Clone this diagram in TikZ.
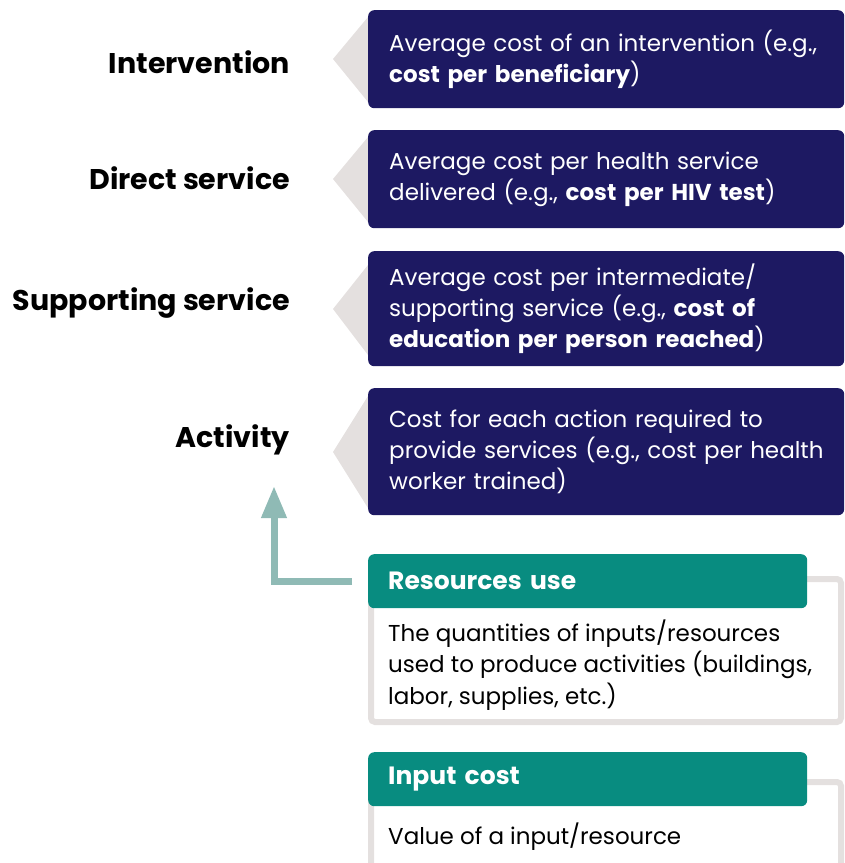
\documentclass[tikz,border=0pt]{standalone}
\usepackage{fontspec}
\setmainfont{Poppins}
\usetikzlibrary{arrows.meta}
\definecolor{navy}{RGB}{29,25,98}
\definecolor{tealdark}{RGB}{8,140,128}
\definecolor{tealarrow}{RGB}{143,186,181}
\definecolor{greyshade}{RGB}{228,224,223}
\begin{document}
\begin{tikzpicture}[x=1pt,y=-1pt,
  navybox/.style={fill=navy, rounded corners=6pt, text=white, anchor=north west,
    minimum width=476pt, inner xsep=21pt, inner ysep=0pt, text width=434pt, align=left,
    font=\fontsize{23}{31}\selectfont},
  lab/.style={anchor=base east, font=\bfseries\fontsize{28.5}{32}\selectfont, text=black, inner sep=0pt},
  tealbox/.style={fill=tealdark, rounded corners=6pt, text=white, anchor=north west,
    minimum width=439pt, minimum height=54pt, inner xsep=20pt, text width=399pt, align=left,
    font=\bfseries\fontsize{25}{28}\selectfont},
  bodytext/.style={anchor=west, inner sep=0pt, align=left, text=black,
    font=\fontsize{23}{31.5}\selectfont},
  frame/.style={draw=greyshade, line width=6pt, rounded corners=4pt},
  pointer/.style={fill=greyshade},
  arr/.style={draw=tealarrow, line width=7pt, -{Triangle[width=24pt,length=32pt]}}
]
\useasboundingbox (0,0) rectangle (845,863);

% grey pointers behind the boxes
\fill[pointer] (368,17) -- (333,59) -- (368,102) -- cycle;
\fill[pointer] (368,137) -- (333,179) -- (368,222) -- cycle;
\fill[pointer] (368,265) -- (333,309) -- (368,355) -- cycle;
\fill[pointer] (368,396) -- (333,452) -- (368,508) -- cycle;

% navy boxes
\node[navybox, minimum height=98pt] (b1) at (368,10)
  {\mbox{Average cost of an intervention (e.g.,}\\\textbf{cost per beneficiary})};
\node[navybox, minimum height=98pt] (b2) at (368,130)
  {Average cost per health service\\\mbox{delivered (e.g., \textbf{cost per HIV test})}};
\node[navybox, minimum height=115pt] (b3) at (368,251)
  {Average cost per intermediate/\\supporting service (e.g., \textbf{cost of}\\\mbox{\textbf{education per person reached})}};
\node[navybox, minimum height=127pt] (b4) at (368,388)
  {Cost for each action required to\\\mbox{provide services (e.g., cost per health}\\worker trained)};

% labels
\node[lab] (l1) at (290,73) {Intervention};
\node[lab] (l2) at (290,189) {Direct service};
\node[lab] (l3) at (290,310) {Supporting service};
\node[lab] (l4) at (290,447) {Activity};

% bottom boxes
\draw[frame] (371,579) rectangle (841,722);
\node[tealbox] (res) at (368,554) {Resources use};
\node[bodytext] (resbody) at (388,665)
  {The quantities of inputs/resources\\used to produce activities (buildings,\\labor, supplies, etc.)};

\draw[frame] (371,782) rectangle (841,920);
\node[tealbox] (inp) at (368,752) {Input cost};
\node[bodytext] (inpbody) at (388,837) {Value of a input/resource};

% arrow
\coordinate (tip) at (274,486);
\draw[arr] ([xshift=-16pt]res.west) -| (tip);
\end{tikzpicture}
\end{document}
